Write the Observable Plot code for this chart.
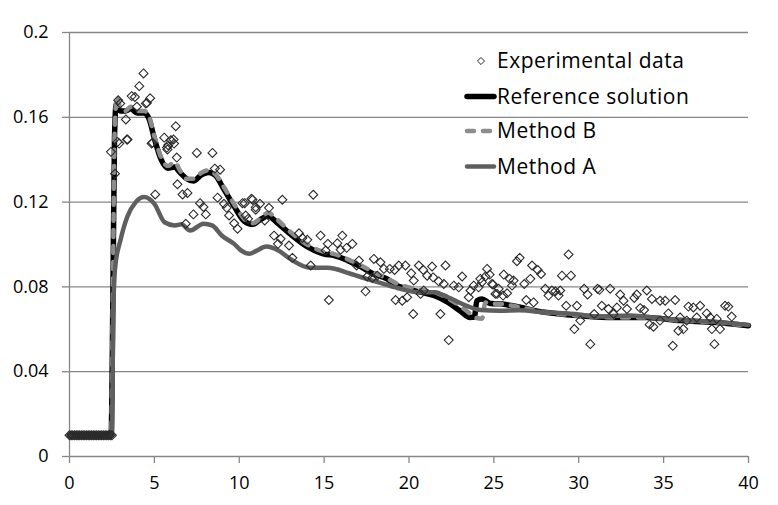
<!DOCTYPE html>
<html>
<head>
<meta charset="utf-8">
<script src="https://cdn.jsdelivr.net/npm/d3@7"></script>
<script src="https://cdn.jsdelivr.net/npm/@observablehq/plot@0.6"></script>
<style>
  html, body { margin: 0; padding: 0; background: #fff; }
  #wrap { position: relative; width: 778px; height: 505px; }
  #wrap svg { position: absolute; left: 0; top: 0; }
</style>
</head>
<body>
<div id="wrap"></div>
<script>
// ---- Data ----
const xTicks = [0, 5, 10, 15, 20, 25, 30, 35, 40];
const yTicks = [0, 0.04, 0.08, 0.12, 0.16, 0.2];
const seriesNames = ["Experimental data", "Reference solution", "Method B", "Method A"];

const refX = [0, 2.45, 2.55, 2.65, 2.75, 3.0, 3.3, 3.6, 4.0, 4.4, 4.7, 5.0, 5.4, 5.8, 6.2, 6.5, 6.9, 7.3, 7.8, 8.2, 8.6, 9.1, 9.7, 10.3, 10.8, 11.2, 11.7, 12.2, 13.0, 14.0, 15.0, 15.6, 16.4, 17.2, 17.9, 18.7, 19.3, 19.9, 20.7, 21.5, 22.3, 23.0, 23.6, 23.85, 24.0, 24.3, 24.8, 25.4, 26.1, 28, 30.1, 32.1, 34, 36, 37.9, 40];
const refY = [0.01, 0.01, 0.07, 0.15, 0.166, 0.163, 0.163, 0.164, 0.162, 0.162, 0.159, 0.15, 0.14, 0.136, 0.1365, 0.134, 0.131, 0.130, 0.133, 0.134, 0.1325, 0.126, 0.118, 0.111, 0.1095, 0.1115, 0.1135, 0.1105, 0.105, 0.099, 0.0955, 0.0948, 0.0924, 0.0893, 0.0861, 0.0838, 0.0806, 0.0791, 0.0775, 0.0759, 0.0727, 0.0688, 0.0656, 0.0658, 0.0735, 0.0743, 0.0722, 0.072, 0.0711, 0.068, 0.0664, 0.0656, 0.0656, 0.0641, 0.0633, 0.0617];

const bX = [0, 2.45, 2.55, 2.65, 2.8, 3.0, 3.3, 3.6, 4.0, 4.4, 4.7, 5.0, 5.4, 5.8, 6.2, 6.5, 6.9, 7.3, 7.8, 8.2, 8.6, 9.1, 9.7, 10.3, 10.8, 11.2, 11.7, 12.2, 13.0, 14.0, 15.0, 15.6, 16.4, 17.2, 17.9, 18.7, 19.3, 19.9, 20.7, 21.5, 22.3, 23.0, 23.5, 23.9, 24.3, 24.5, 24.8, 25.4, 26.1, 28, 30.1, 32.1, 34, 36, 37.9, 40];
const bY = [0.01, 0.01, 0.07, 0.15, 0.170, 0.164, 0.163, 0.165, 0.163, 0.163, 0.160, 0.151, 0.141, 0.137, 0.139, 0.135, 0.131, 0.131, 0.134, 0.135, 0.133, 0.127, 0.119, 0.112, 0.110, 0.112, 0.115, 0.112, 0.106, 0.100, 0.0965, 0.0955, 0.093, 0.090, 0.087, 0.084, 0.0815, 0.080, 0.0785, 0.0775, 0.0745, 0.071, 0.068, 0.0655, 0.065, 0.0727, 0.0722, 0.072, 0.0711, 0.068, 0.0664, 0.0656, 0.0656, 0.0641, 0.0633, 0.0617];

const aX = [0, 2.5, 2.58, 2.7, 3.0, 3.4, 3.9, 4.4, 5.0, 5.6, 6.2, 6.6, 7.1, 7.9, 8.4, 9.0, 9.7, 10.1, 10.6, 11.0, 11.6, 12.3, 13.0, 14.2, 15.2, 16.6, 17.5, 18.5, 19.5, 20.5, 21.5, 22.3, 23.4, 24.2, 25.4, 26.5, 28, 30, 31, 33, 35, 36, 38, 40];
const aY = [0.01, 0.01, 0.07, 0.09, 0.102, 0.113, 0.12, 0.1224, 0.1192, 0.1105, 0.109, 0.1095, 0.1066, 0.1098, 0.109, 0.104, 0.1003, 0.0972, 0.0956, 0.097, 0.099, 0.0972, 0.0932, 0.089, 0.089, 0.0861, 0.0838, 0.0814, 0.0791, 0.0775, 0.0775, 0.0751, 0.0711, 0.0691, 0.0688, 0.069, 0.068, 0.067, 0.066, 0.0665, 0.065, 0.0645, 0.0635, 0.062];

const expX = [0, 0.1, 0.2, 0.3, 0.4, 0.5, 0.6, 0.7, 0.8, 0.9, 1.0, 1.1, 1.2, 1.3, 1.4, 1.5, 1.6, 1.7, 1.8, 1.9, 2.0, 2.1, 2.2, 2.3, 2.4, 2.5,
  4.36, 4.11, 3.66, 3.85, 4.75, 4.56, 2.87, 3.32, 3.97, 2.44, 2.93, 3.38, 2.68, 6.26, 5.58, 6.13, 5.81, 4.84, 5.77, 7.5, 8.42, 8.56, 8.87, 6.36, 6.66, 6.95, 5.05, 7.69, 7.89, 7.3, 8.03, 6.85, 8.72, 9.1, 9.26, 10.19, 10.72, 10.97, 10.38, 9.7, 9.9, 9.4,
  4.5, 2.99, 3.42, 4.89, 5.97, 5.74, 6.16, 6.32, 2.83,
  14.36, 12.54, 10.78, 10.32, 11.22, 11.75, 10.97, 10.52, 11.5, 12.05, 12.44, 12.28, 12.93, 13.52, 13.72, 14.01, 14.79, 15.22, 15.09, 16.07, 15.78, 16.32, 16.66, 15.97, 13.13, 14.21, 17.05, 16.91, 17.93, 18.32, 17.54, 17.84, 18.13, 17.44, 15.28, 18.52, 18.87, 19.15, 19.4, 19.79, 20.58, 20.84, 21.36, 22.15, 20.13, 20.28, 21.07, 21.42, 21.75, 20.68, 20.87, 19.21, 19.6, 19.89, 20.25, 21.85, 22.34, 23.13, 22.64, 22.93, 22.05, 24.6, 24.5, 24.2, 24.89, 23.81, 23.62, 24.1, 25.09, 25.28, 23.52,
  29.4, 26.52, 26.36, 24.75, 24.3, 24.95, 25.19, 25.54, 25.78, 25.58, 25.93, 26.16, 26.07, 26.79, 27.25, 27.58, 27.78, 27.15, 26.91, 27.34, 28.03, 28.42, 28.62, 28.91, 28.22, 28.81, 29.01, 29.54, 29.26, 29.89, 29.74, 30.09, 30.68, 30.32, 30.52, 31.11, 31.22, 31.85, 30.91, 31.36, 31.75, 32.05, 32.25, 32.44, 32.64, 32.84, 33.27, 33.42, 33.62, 33.85, 34.01, 34.31, 34.79, 35.09, 35.68, 34.17, 34.4, 35.28, 35.97, 36.46, 36.75, 37.15, 36.36, 36.95, 37.54, 37.74, 38.13, 38.62, 38.81, 39.01, 35.87, 36.16, 37.84, 38.32, 35.54, 37.99, 34.79];
const expY = [0.01, 0.01, 0.01, 0.01, 0.01, 0.01, 0.01, 0.01, 0.01, 0.01, 0.01, 0.01, 0.01, 0.01, 0.01, 0.01, 0.01, 0.01, 0.01, 0.01, 0.01, 0.01, 0.01, 0.01, 0.01, 0.01,
  0.1807, 0.1747, 0.170, 0.1696, 0.169, 0.1668, 0.168, 0.159, 0.165, 0.1437, 0.1476, 0.1495, 0.1334, 0.1558, 0.1504, 0.1495, 0.1468, 0.1476, 0.1448, 0.1432, 0.1432, 0.1358, 0.1353, 0.1284, 0.1236, 0.1243, 0.1236, 0.1195, 0.1177, 0.1142, 0.1142, 0.1098, 0.1221, 0.1192, 0.1173, 0.1195, 0.1216, 0.1176, 0.1137, 0.110, 0.1074, 0.1137,
  0.1665, 0.1665, 0.1495, 0.148, 0.1492, 0.1457, 0.1476, 0.141, 0.1484,
  0.1235, 0.1211, 0.1211, 0.1195, 0.1192, 0.1173, 0.1164, 0.1121, 0.1113, 0.1042, 0.1027, 0.1003, 0.0995, 0.1053, 0.1031, 0.1022, 0.1042, 0.1003, 0.0972, 0.1042, 0.1006, 0.0984, 0.1003, 0.0975, 0.0937, 0.0901, 0.0924, 0.0901, 0.0932, 0.0916, 0.0849, 0.0843, 0.0853, 0.0779, 0.0738, 0.0885, 0.0885, 0.088, 0.0901, 0.0901, 0.0901, 0.088, 0.0896, 0.0901, 0.0864, 0.083, 0.0853, 0.0845, 0.0826, 0.0767, 0.0783, 0.0738, 0.0735, 0.0751, 0.0672, 0.0672, 0.0549, 0.0849, 0.0806, 0.0798, 0.0814, 0.0885, 0.0849, 0.0838, 0.0814, 0.0806, 0.0783, 0.0798, 0.0767, 0.0791, 0.0751,
  0.0953, 0.0937, 0.0921, 0.0858, 0.0822, 0.0811, 0.0767, 0.0759, 0.077, 0.0858, 0.0838, 0.083, 0.0806, 0.0814, 0.0901, 0.088, 0.0861, 0.0838, 0.0738, 0.0727, 0.0791, 0.0783, 0.0779, 0.0783, 0.0759, 0.0759, 0.0853, 0.0853, 0.0711, 0.0711, 0.0601, 0.0641, 0.053, 0.0791, 0.0764, 0.0791, 0.0786, 0.0791, 0.0672, 0.0711, 0.0696, 0.0672, 0.0703, 0.0764, 0.0735, 0.0696, 0.0748, 0.0764, 0.07, 0.0691, 0.0783, 0.0743, 0.0735, 0.0735, 0.0738, 0.0622, 0.0612, 0.0675, 0.0656, 0.0707, 0.0703, 0.0711, 0.0641, 0.0656, 0.0675, 0.0656, 0.0649, 0.0711, 0.0707, 0.066, 0.0593, 0.0601, 0.0601, 0.0601, 0.0522, 0.053, 0.0641];

// ---- Build tables ----
const zip = (xs, ys) => xs.map((x, i) => ({x, y: ys[i]}));
const exp = zip(expX, expY);
const ref = zip(refX, refY);
const mB = zip(bX, bY);
const mA = zip(aX, aY);

const colors = {ref: "#000000", b: "#8c8c8c", a: "#5f5f5f", grid: "#878787", dot: "#2a2a2a"};
const font = "'Open Sans', 'Noto Sans', sans-serif";

const chart = Plot.plot({
  width: 778,
  height: 505,
  marginLeft: 69,
  marginRight: 30,
  marginTop: 32,
  marginBottom: 49,
  style: {fontFamily: font, fontSize: "18px", color: "#000", background: "#fff"},
  x: {domain: [0, 40], label: null},
  y: {domain: [0, 0.2], label: null},
  marks: [
    Plot.ruleY(yTicks, {stroke: colors.grid, strokeWidth: 1.3}),
    Plot.ruleX([0], {stroke: colors.grid, strokeWidth: 1.3}),
    Plot.axisY({ticks: yTicks, tickSize: 7, tickPadding: 14, stroke: colors.grid, strokeWidth: 1.3, fill: "#000", tickFormat: d => String(d), label: null}),
    Plot.axisX({ticks: xTicks, tickSize: 7, tickPadding: 13, stroke: colors.grid, strokeWidth: 1.3, fill: "#000", tickFormat: d => String(d), label: null}),
    Plot.line(ref, {x: "x", y: "y", stroke: colors.ref, strokeWidth: 5.5, curve: "monotone-x", strokeLinecap: "round", strokeLinejoin: "round"}),
    Plot.line(mB, {x: "x", y: "y", stroke: colors.b, strokeWidth: 4.5, curve: "monotone-x", strokeDasharray: "7,9", strokeLinecap: "round", strokeLinejoin: "round"}),
    Plot.line(mA, {x: "x", y: "y", stroke: colors.a, strokeWidth: 4.5, curve: "monotone-x", strokeLinecap: "round", strokeLinejoin: "round"}),
    Plot.dot(exp, {x: "x", y: "y", symbol: "diamond2", r: 4, stroke: colors.dot, strokeWidth: 1.1, fill: "none"})
  ]
});

const wrap = document.getElementById("wrap");
wrap.appendChild(chart);

// ---- Legend (overlay SVG) ----
const leg = d3.select(wrap).append("svg")
  .attr("width", 778).attr("height", 505)
  .style("pointer-events", "none");
const items = [
  {name: seriesNames[0], type: "dot", y: 61},
  {name: seriesNames[1], type: "line", color: colors.ref, w: 5.5, dash: null, y: 96.5},
  {name: seriesNames[2], type: "line", color: colors.b, w: 4.5, dash: "7,9", y: 131},
  {name: seriesNames[3], type: "line", color: colors.a, w: 4.5, dash: null, y: 166.5}
];
const g = leg.append("g");
items.forEach(it => {
  if (it.type === "dot") {
    g.append("path").attr("d", d3.symbol(d3.symbolDiamond2, 32)()).attr("transform", `translate(481,${it.y})`)
      .attr("fill", "none").attr("stroke", colors.dot).attr("stroke-width", 1);
  } else {
    const l = g.append("line").attr("x1", 467).attr("x2", 494).attr("y1", it.y).attr("y2", it.y)
      .attr("stroke", it.color).attr("stroke-width", it.w).attr("stroke-linecap", "round");
    if (it.dash) l.attr("stroke-dasharray", it.dash);
  }
  g.append("text").attr("x", 497).attr("y", it.y).attr("dy", "0.35em")
    .attr("font-family", font).attr("font-size", "21px").attr("letter-spacing", "0.5px")
    .attr("fill", "#000").text(it.name);
});
</script>
</body>
</html>
